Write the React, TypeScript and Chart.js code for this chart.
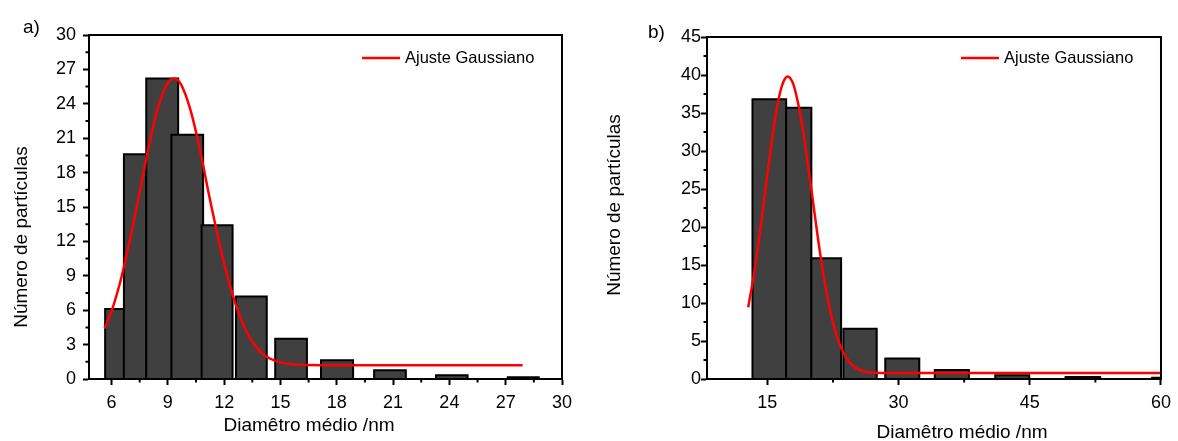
import React, { useEffect, useRef } from 'react';
import { Chart, registerables } from 'chart.js';

Chart.register(...registerables);

const FONT = "Arial, 'Liberation Sans', sans-serif";

// ---------- Panel a ----------
const binStartA = [5.66, 6.66, 7.85, 9.19, 10.8, 12.63, 14.72, 17.16, 19.99, 23.29, 27.11];
const binEndA = [6.66, 7.85, 9.55, 10.88, 12.45, 14.27, 16.41, 18.87, 21.68, 24.97, 28.76];
const countsA = [6.1, 19.6, 26.2, 21.3, 13.4, 7.2, 3.5, 1.63, 0.76, 0.32, 0.15];
const fitXA = [5.63, 6.0, 6.5, 7.0, 7.5, 8.0, 8.5, 9.0, 9.33, 9.7, 10.2, 10.7, 11.2, 11.7, 12.2, 12.7, 13.2, 13.7, 14.2, 14.7, 15.5, 16.5, 18.0, 27.9];
const fitYA = [4.4, 5.9, 8.7, 12.3, 16.3, 20.4, 23.8, 25.8, 26.2, 25.7, 23.5, 20.1, 16.0, 12.2, 8.8, 6.1, 4.1, 2.8, 2.0, 1.6, 1.3, 1.22, 1.2, 1.2];
const xTicksA = [6, 9, 12, 15, 18, 21, 24, 27, 30];
const xMinorA = [7.5, 10.5, 13.5, 16.5, 19.5, 22.5, 25.5, 28.5];
const yTicksA = [0, 3, 6, 9, 12, 15, 18, 21, 24, 27, 30];
const yMinorA = [1.5, 4.5, 7.5, 10.5, 13.5, 16.5, 19.5, 22.5, 25.5, 28.5];

// ---------- Panel b ----------
const binStartB = [13.3, 17.15, 20.03, 23.69, 28.48, 34.14, 41.05, 49.09, 58.99];
const binEndB = [17.15, 20.03, 23.43, 27.5, 32.37, 38.04, 44.94, 53.05, 63.0];
const countsB = [36.8, 35.7, 15.9, 6.6, 2.7, 1.2, 0.48, 0.26, 0.17];
const fitXB = [12.81, 13.5, 14.0, 14.5, 15.0, 15.5, 16.0, 16.5, 17.0, 17.34, 17.6, 18.0, 19.0, 20.0, 21.0, 22.0, 23.0, 24.0, 25.0, 26.0, 27.0, 28.0, 60.0];
const fitYB = [9.44, 14.0, 18.0, 22.4, 26.9, 31.2, 35.0, 37.9, 39.5, 39.8, 39.6, 38.7, 33.3, 25.2, 16.8, 10.0, 5.4, 2.8, 1.55, 1.02, 0.85, 0.8, 0.8];
const xTicksB = [15, 30, 45, 60];
const xMinorB = [22.5, 37.5, 52.5];
const yTicksB = [0, 5, 10, 15, 20, 25, 30, 35, 40, 45];
const yMinorB = [2.5, 7.5, 12.5, 17.5, 22.5, 27.5, 32.5, 37.5, 42.5];

const X_TITLE = 'Diamêtro médio /nm';
const Y_TITLE = 'Número de partículas';
const FIT_LABEL = 'Ajuste Gaussiano';

type PanelCfg = {
  tag: string;
  tagX: number;
  tagY: number;
  binStart: number[];
  binEnd: number[];
  counts: number[];
  fitX: number[];
  fitY: number[];
  xMin: number;
  xMax: number;
  yMax: number;
  xTicks: number[];
  xMinor: number[];
  yTicks: number[];
  yMinor: number[];
  padLeft: number;
  padRight: number;
  padTop: number;
  yWidth: number;
  yTickPad: number;
  xTitlePos: [number, number];
  yTitlePos: [number, number];
  legendDy: number;
};

function buildConfig(p: PanelCfg): any {
  const datasets: any[] = [];
  datasets.push({
    label: FIT_LABEL,
    data: p.fitX.map((x, i) => ({ x, y: p.fitY[i] })),
    borderColor: '#ff0000',
    borderWidth: 2.5,
    pointRadius: 0,
    fill: false,
    cubicInterpolationMode: 'monotone',
    order: 0,
  });
  p.counts.forEach((c, i) => {
    datasets.push({
      label: 'bin' + i,
      data: [
        { x: p.binStart[i], y: 0 },
        { x: p.binStart[i], y: c },
        { x: p.binEnd[i], y: c },
        { x: p.binEnd[i], y: 0 },
      ],
      borderColor: '#000000',
      backgroundColor: '#404040',
      borderWidth: 2,
      pointRadius: 0,
      tension: 0,
      fill: 'origin',
      borderJoinStyle: 'miter',
      order: 100 - i,
    });
  });

  const decor = {
    id: 'decor' + p.tag,
    afterDraw(chart: any) {
      const ctx = chart.ctx;
      const a = chart.chartArea;
      const xs = chart.scales.x;
      const ys = chart.scales.y;
      ctx.save();
      // frame
      ctx.strokeStyle = '#000';
      ctx.lineWidth = 2;
      ctx.strokeRect(a.left, a.top, a.right - a.left, a.bottom - a.top);
      // minor ticks
      ctx.beginPath();
      p.xMinor.forEach((v) => {
        const px = xs.getPixelForValue(v);
        ctx.moveTo(px, a.bottom);
        ctx.lineTo(px, a.bottom + 3.5);
      });
      p.yMinor.forEach((v) => {
        const py = ys.getPixelForValue(v);
        ctx.moveTo(a.left, py);
        ctx.lineTo(a.left - 3.5, py);
      });
      ctx.stroke();
      // legend
      const ly = a.top + p.legendDy;
      ctx.strokeStyle = '#ff0000';
      ctx.lineWidth = 2.5;
      ctx.beginPath();
      ctx.moveTo(a.right - 200, ly);
      ctx.lineTo(a.right - 162, ly);
      ctx.stroke();
      ctx.fillStyle = '#000';
      ctx.font = '16.5px ' + FONT;
      ctx.textAlign = 'left';
      ctx.textBaseline = 'middle';
      ctx.fillText(FIT_LABEL, a.right - 157, ly);
      // panel tag
      ctx.font = '19px ' + FONT;
      ctx.fillText(p.tag, p.tagX, p.tagY);
      // axis titles
      ctx.font = '19px ' + FONT;
      ctx.textAlign = 'center';
      ctx.fillText(X_TITLE, p.xTitlePos[0], p.xTitlePos[1]);
      ctx.translate(p.yTitlePos[0], p.yTitlePos[1]);
      ctx.rotate(-Math.PI / 2);
      ctx.fillText(Y_TITLE, 0, 0);
      ctx.restore();
    },
  };

  const tickFont = { family: FONT, size: 18 };

  return {
    type: 'line',
    data: { datasets },
    options: {
      responsive: false,
      animation: false,
      events: [],
      layout: { padding: { left: p.padLeft, right: p.padRight, top: p.padTop, bottom: 0 } },
      plugins: { legend: { display: false }, tooltip: { enabled: false } },
      scales: {
        x: {
          type: 'linear',
          min: p.xMin,
          max: p.xMax,
          afterBuildTicks: (s: any) => {
            s.ticks = p.xTicks.map((v) => ({ value: v }));
          },
          afterFit: (s: any) => {
            s.height = 62;
          },
          ticks: {
            font: tickFont,
            color: '#000',
            padding: 7,
            maxRotation: 0,
            autoSkip: false,
            callback: (v: any) => String(v),
          },
          grid: {
            display: true,
            drawOnChartArea: false,
            drawTicks: true,
            tickLength: 6,
            tickWidth: 2,
            tickColor: '#000',
          },
          border: { display: true, color: '#000', width: 2 },
          title: { display: false },
        },
        y: {
          type: 'linear',
          min: 0,
          max: p.yMax,
          afterBuildTicks: (s: any) => {
            s.ticks = p.yTicks.map((v) => ({ value: v }));
          },
          afterFit: (s: any) => {
            s.width = p.yWidth;
          },
          ticks: {
            font: tickFont,
            color: '#000',
            padding: p.yTickPad,
            autoSkip: false,
            callback: (v: any) => String(v),
          },
          grid: {
            display: true,
            drawOnChartArea: false,
            drawTicks: true,
            tickLength: 6,
            tickWidth: 2,
            tickColor: '#000',
          },
          border: { display: true, color: '#000', width: 2 },
          title: { display: false },
        },
      },
    },
    plugins: [decor],
  };
}

const panelA: PanelCfg = {
  tag: 'a)',
  tagX: 23,
  tagY: 28,
  binStart: binStartA,
  binEnd: binEndA,
  counts: countsA,
  fitX: fitXA,
  fitY: fitYA,
  xMin: 4.8,
  xMax: 30,
  yMax: 30,
  xTicks: xTicksA,
  xMinor: xMinorA,
  yTicks: yTicksA,
  yMinor: yMinorA,
  padLeft: 7,
  padRight: 30,
  padTop: 35,
  yWidth: 82,
  yTickPad: 7,
  xTitlePos: [309, 426],
  yTitlePos: [22, 237],
  legendDy: 23,
};

const panelB: PanelCfg = {
  tag: 'b)',
  tagX: 53,
  tagY: 33,
  binStart: binStartB,
  binEnd: binEndB,
  counts: countsB,
  fitX: fitXB,
  fitY: fitYB,
  xMin: 8.1,
  xMax: 60,
  yMax: 45,
  xTicks: xTicksB,
  xMinor: xMinorB,
  yTicks: yTicksB,
  yMinor: yMinorB,
  padLeft: 5,
  padRight: 13,
  padTop: 37,
  yWidth: 107,
  yTickPad: 0,
  xTitlePos: [962 - 595, 433],
  yTitlePos: [615 - 595, 205],
  legendDy: 21,
};

function Panel({ cfg, left, width }: { cfg: PanelCfg; left: number; width: number }) {
  const ref = useRef<HTMLCanvasElement>(null);
  useEffect(() => {
    const chart = new Chart(ref.current as HTMLCanvasElement, buildConfig(cfg));
    return () => chart.destroy();
  }, [cfg]);
  return (
    <canvas
      ref={ref}
      width={width}
      height={441}
      style={{ position: 'absolute', left, top: 0, width, height: 441, display: 'block' }}
    />
  );
}

export default function App() {
  return (
    <div style={{ position: 'fixed', left: 0, top: 0, width: 1178, height: 441, background: '#fff' }}>
      <Panel cfg={panelA} left={0} width={592} />
      <Panel cfg={panelB} left={595} width={583} />
    </div>
  );
}
